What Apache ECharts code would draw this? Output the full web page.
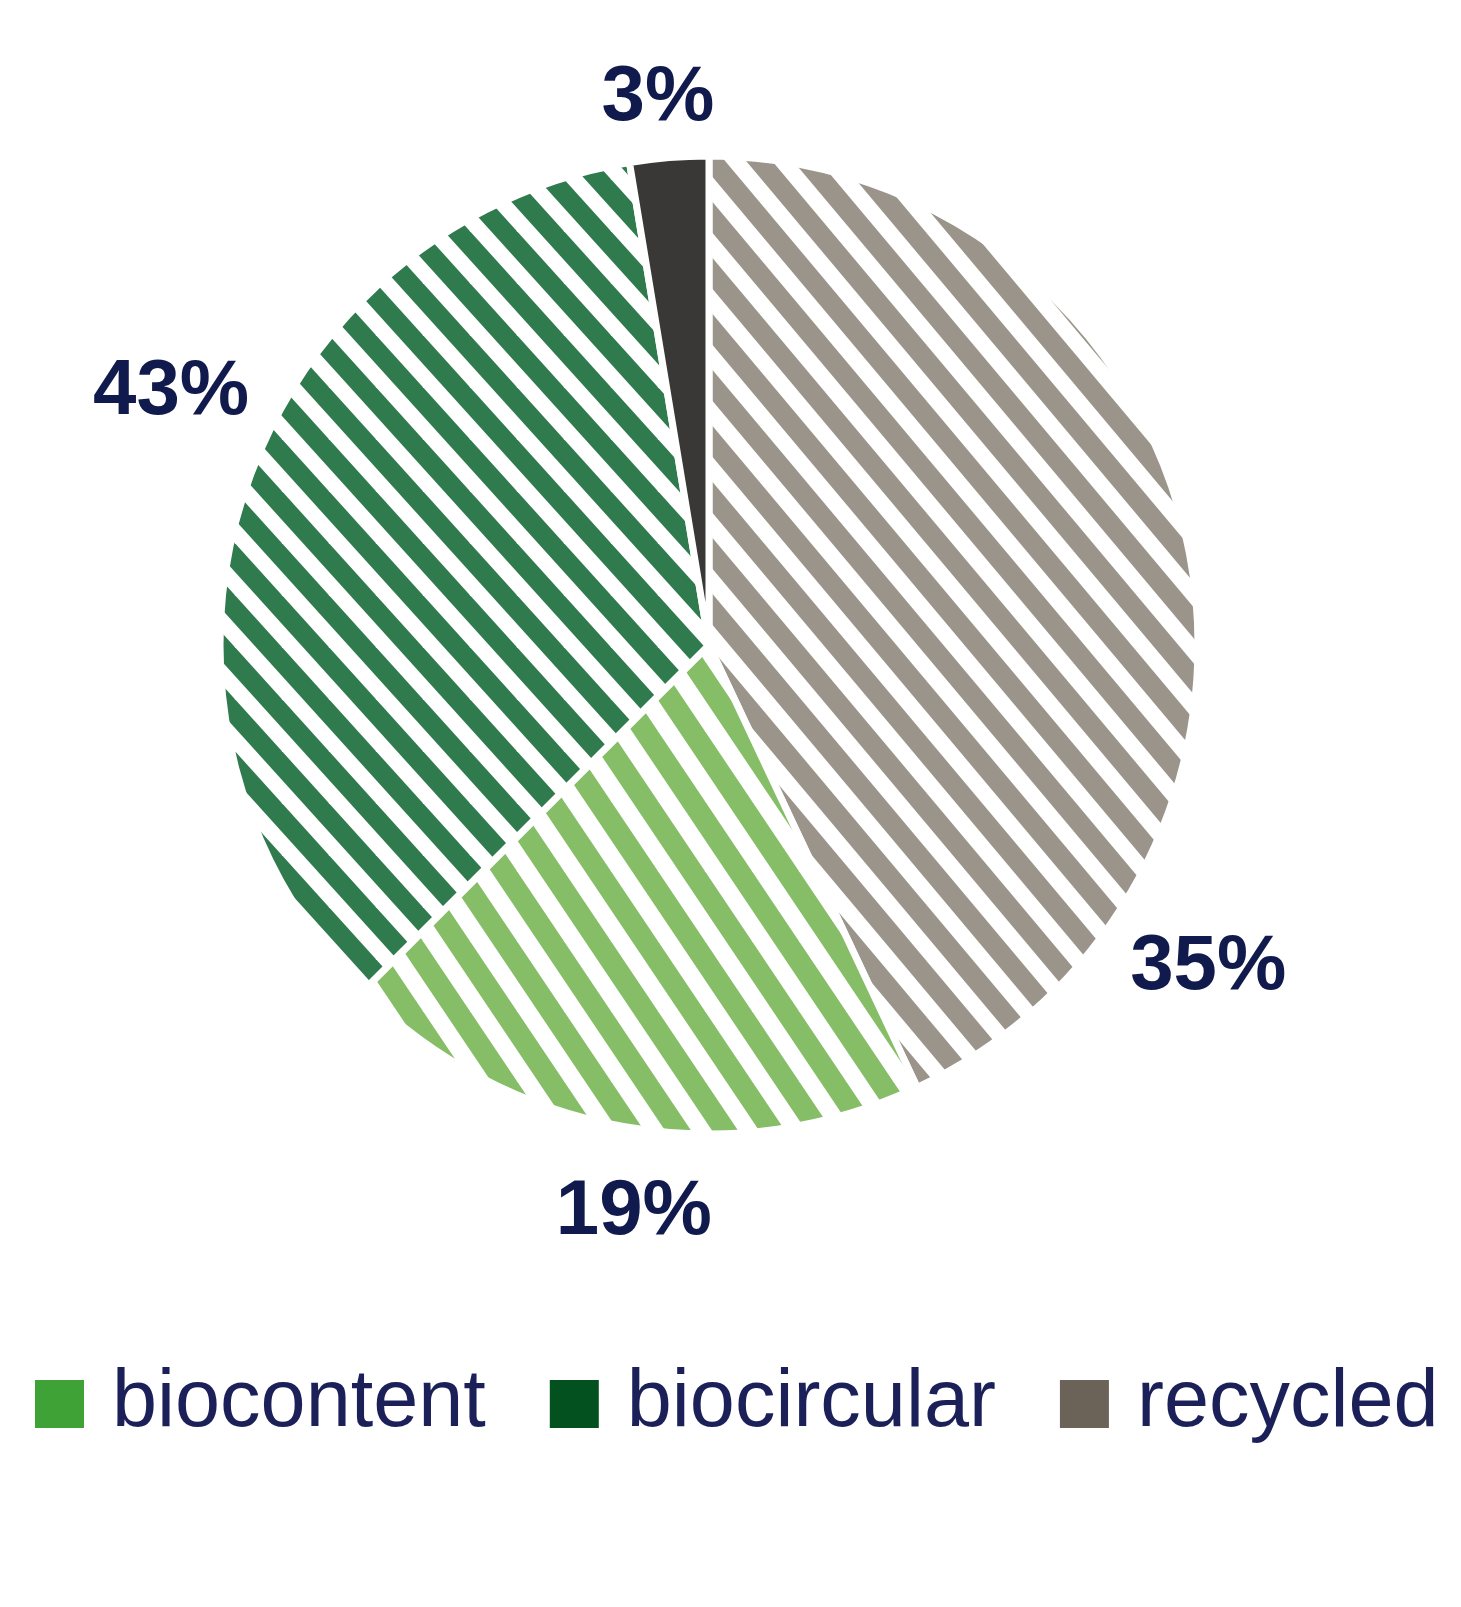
<!DOCTYPE html>
<html>
<head>
<meta charset="utf-8">
<script src="https://cdn.jsdelivr.net/npm/echarts@6/dist/echarts.min.js"></script>
<style>
html,body{margin:0;padding:0;background:#fff;}
#chart{width:1461px;height:1607px;}
</style>
</head>
<body>
<div id="chart"></div>
<script>
// Slice names in drawing order (clockwise from 12 o'clock)
const sliceNames = ['recycled', 'biocontent', 'biocircular', 'other'];
// Slice shares as drawn in the picture (angular size, %)
const sliceShares = [43, 19.5, 34.9, 2.6];
// Percentage labels printed next to each slice
const printedLabels = ['35%', '19%', '43%', '3%'];
// Legend entries
const legendNames = ['biocontent', 'biocircular', 'recycled'];

const hatchColors = {recycled: '#9b948a', biocontent: '#86be67', biocircular: '#2f7b4d'};
const solidColors = {other: '#393836'};
const legendColors = {biocontent: '#3ea236', biocircular: '#02511f', recycled: '#6b6358'};
const hatchAngle = {recycled: 50, biocontent: 56, biocircular: 48};

function hatch(color, angleDeg) {
  const P = 47;
  const H = Math.max(1, Math.round(P * Math.tan(angleDeg * Math.PI / 180)));
  const c = document.createElement('canvas');
  c.width = P; c.height = H;
  const g = c.getContext('2d');
  g.fillStyle = '#ffffff';
  g.fillRect(0, 0, P, H);
  g.fillStyle = color;
  const w = 26;
  for (let k = -3; k <= 2; k++) {
    const x0 = k * P;
    g.beginPath();
    g.moveTo(x0, 0);
    g.lineTo(x0 + w, 0);
    g.lineTo(x0 + w + P, H);
    g.lineTo(x0 + P, H);
    g.closePath();
    g.fill();
  }
  return {image: c, repeat: 'repeat'};
}

const center = [709, 645];
// label placement (angle clockwise from top, distance from centre)
const labelPolar = [[122.5, 592], [187.6, 568], [295.5, 596], [354.7, 553]];

const data = sliceNames.map((n, i) => ({
  name: n,
  value: sliceShares[i],
  itemStyle: {color: hatchColors[n] ? hatch(hatchColors[n], hatchAngle[n]) : solidColors[n]}
}));

const chart = echarts.init(document.getElementById('chart'), null, {renderer: 'canvas'});
chart.setOption({
  animation: false,
  backgroundColor: '#ffffff',
  legend: {
    data: legendNames.map(n => ({name: n, itemStyle: {color: legendColors[n]}})),
    orient: 'horizontal',
    left: 33,
    top: 1358,
    padding: 0,
    icon: 'rect',
    itemWidth: 51,
    itemHeight: 50,
    itemGap: 62,
    selectedMode: false,
    textStyle: {
      fontFamily: 'Liberation Sans, Arial, sans-serif',
      fontSize: 81,
      lineHeight: 80,
      color: '#1b2058',
      padding: [12, 0, 0, 22]
    }
  },
  series: [{
    type: 'pie',
    center: center,
    radius: [0, 489],
    startAngle: 90,
    clockwise: true,
    silent: true,
    itemStyle: {borderColor: '#ffffff', borderWidth: 7},
    label: {
      show: true,
      position: 'outside',
      formatter: p => printedLabels[p.dataIndex],
      fontFamily: 'Liberation Sans, Arial, sans-serif',
      fontWeight: 'bold',
      fontSize: 78,
      color: '#111a4d'
    },
    labelLine: {show: false},
    labelLayout: function (params) {
      const lp = labelPolar[params.dataIndex];
      const a = lp[0] * Math.PI / 180;
      return {
        x: center[0] + lp[1] * Math.sin(a),
        y: center[1] - lp[1] * Math.cos(a) + 4,
        align: 'center',
        verticalAlign: 'middle'
      };
    },
    data: data
  }]
});
</script>
</body>
</html>
